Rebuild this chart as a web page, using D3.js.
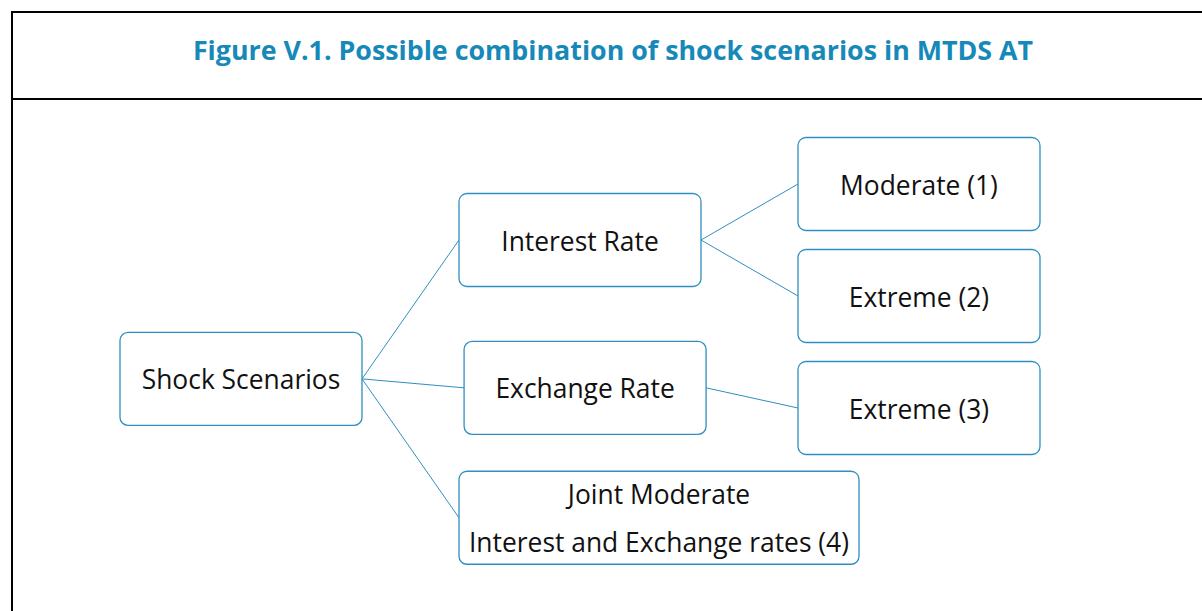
<!DOCTYPE html>
<html>
<head>
<meta charset="utf-8">
<script src="https://cdn.jsdelivr.net/npm/d3@7"></script>
<style>
  body { margin: 0; background: #fff; }
  svg { display: block; }
</style>
</head>
<body>
<div class="chart"></div>
<script>
// diagram contents
const titleText = "Figure V.1. Possible combination of shock scenarios in MTDS AT";
const labels = [
  ["Shock Scenarios"],
  ["Interest Rate"],
  ["Exchange Rate"],
  ["Joint Moderate", "Interest and Exchange rates (4)"],
  ["Moderate (1)"],
  ["Extreme (2)"],
  ["Extreme (3)"]
];
const levels = [0, 1, 1.015, 1, 2, 2, 2];         // column of each box
const rows = [3.48, 1, 3.64, 5.96, 0, 2, 4];       // vertical slot of each box
const links = [[0, 1], [0, 2], [0, 3], [1, 4], [1, 5], [2, 6]];

const width = 1202, height = 611;
const boxW = 242, boxH = 93, pad = 10;
const fs = 26.4;
const blue = "#2f8fc0";
const font = "'Open Sans', 'Noto Sans', sans-serif";

const x = d3.scaleLinear().domain([0, 1]).range([120, 459]);
const y = d3.scaleLinear().domain([0, 1]).range([184, 240]);

const svg = d3.select(".chart").append("svg")
    .attr("width", width)
    .attr("height", height)
    .attr("viewBox", [0, 0, width, height]);

// frame + title row
svg.append("rect")
    .attr("x", 12).attr("y", 12)
    .attr("width", width + 20).attr("height", height + 20)
    .attr("fill", "none").attr("stroke", "#000").attr("stroke-width", 2);
svg.append("line")
    .attr("x1", 12).attr("x2", width)
    .attr("y1", 99).attr("y2", 99)
    .attr("stroke", "#000").attr("stroke-width", 2);
svg.append("text")
    .attr("x", 613).attr("y", 59.5)
    .attr("text-anchor", "middle")
    .attr("font-family", font)
    .attr("font-weight", "bold")
    .attr("font-size", 26.8)
    .attr("fill", "#1689b9")
    .text(titleText);

// measure text to size the boxes
const I = d3.range(labels.length);
const measure = svg.append("text").attr("font-family", font).attr("font-size", fs);
const W = I.map(i => {
  const w = d3.max(labels[i], t => measure.text(t).node().getComputedTextLength());
  return Math.max(boxW, w + pad * 2);
});
measure.remove();

const cy = i => y(rows[i]);

svg.append("g")
    .attr("stroke", blue)
    .attr("stroke-width", 1)
    .selectAll("line")
    .data(links)
    .join("line")
    .attr("x1", ([s]) => x(levels[s]) + W[s])
    .attr("y1", ([s]) => cy(s))
    .attr("x2", ([, t]) => x(levels[t]))
    .attr("y2", ([, t]) => cy(t));

const node = svg.append("g")
    .selectAll("g")
    .data(I)
    .join("g")
    .attr("transform", i => `translate(${x(levels[i])},${cy(i) - boxH / 2})`);

node.append("rect")
    .attr("width", i => W[i])
    .attr("height", boxH)
    .attr("rx", 8)
    .attr("fill", "#fff")
    .attr("stroke", blue)
    .attr("stroke-width", 1.3);

node.append("text")
    .attr("font-family", font)
    .attr("font-size", fs)
    .attr("fill", "#111")
    .attr("text-anchor", "middle")
    .selectAll("tspan")
    .data(i => labels[i].map((t, k) => ({t, k, n: labels[i].length, w: W[i]})))
    .join("tspan")
    .attr("x", d => d.w / 2)
    .attr("y", d => boxH / 2 + (d.k - (d.n - 1) / 2) * 48)
    .attr("dy", "0.4em")
    .text(d => d.t);
</script>
</body>
</html>
